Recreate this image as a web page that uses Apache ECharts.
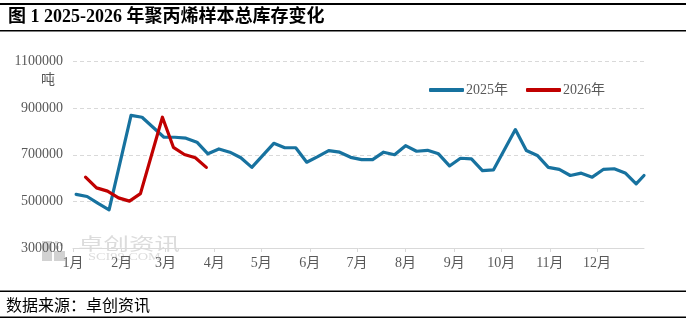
<!DOCTYPE html>
<html>
<head>
<meta charset="utf-8">
<script src="https://cdn.jsdelivr.net/npm/echarts@6/dist/echarts.min.js"></script>
<style>
  html, body { margin: 0; padding: 0; background: #fff; }
  #chart { width: 686px; height: 325px; }
</style>
</head>
<body>
<div id="chart"></div>
<script>
// Weekly polypropylene sample inventory (tonnes), plotted on a shared Jan–Dec calendar.
const axisYear = 2025;

const weeks2025 = [
  '01-03','01-10','01-17','01-24','02-07','02-14','02-21','02-28',
  '03-07','03-14','03-21','03-28','04-04','04-11','04-18','04-25',
  '05-02','05-09','05-16','05-23','05-30','06-06','06-13','06-20','06-27',
  '07-04','07-11','07-18','07-25','08-01','08-08','08-15','08-22','08-29',
  '09-05','09-12','09-19','09-26','10-10','10-17','10-24','10-31',
  '11-07','11-14','11-21','11-28','12-05','12-12','12-19','12-26','12-31'
];
const stock2025 = [
  530000, 521000, 491000, 464000, 869000, 861000, 818000, 775000,
  775000, 771000, 754000, 704000, 725000, 711000, 687000, 646000,
  697000, 749000, 730000, 730000, 668000, 692000, 718000, 711000, 689000,
  679000, 679000, 711000, 700000, 739000, 715000, 719000, 704000, 652000,
  685000, 682000, 632000, 635000, 808000, 718000, 697000, 646000,
  637000, 611000, 621000, 604000, 637000, 640000, 622000, 575000, 611000
];

const weeks2026 = [
  '01-09','01-16','01-23','01-30','02-06','02-13','02-27',
  '03-06','03-13','03-20','03-27'
];
const stock2026 = [
  604000, 558000, 544000, 515000, 501000, 533000, 861000,
  732000, 701000, 687000, 646000
];

const seriesNames = ['2025年', '2026年'];
const monthLabels = ['1月','2月','3月','4月','5月','6月','7月','8月','9月','10月','11月','12月'];
const yMin = 300000, yMax = 1100000, yStep = 200000;

// x position = day of the year (0 = 1 Jan) on the shared calendar
const DAY = 86400000;
const yearStart = Date.UTC(axisYear, 0, 1);
const dayOf = (m, d) => Math.round((Date.UTC(axisYear, m, d) - yearStart) / DAY);
const toDay = md => {
  const [m, d] = md.split('-').map(Number);
  return dayOf(m - 1, d);
};
const pairs = (dates, vals) => dates.map((d, i) => [toDay(d), vals[i]]);
const monthStarts = monthLabels.map((_, i) => dayOf(i, 1));
const lastDay = dayOf(11, 31);

const latin = '"Liberation Serif", "Noto Sans CJK SC", serif';
const cjk = '"Noto Sans CJK SC", sans-serif';
const textGrey = '#595959';
const W = 686;

const chart = echarts.init(document.getElementById('chart'), null, { renderer: 'canvas' });

chart.setOption({
  backgroundColor: '#ffffff',
  animation: false,
  grid: { left: 73, right: 42, top: 61.5, bottom: 77 },
  legend: {
    left: 424, top: 78,
    itemWidth: 35, itemHeight: 4, itemGap: 18,
    icon: 'roundRect',
    textStyle: { color: textGrey, fontSize: 14, fontFamily: latin, padding: [0, 0, 0, -3] },
    data: seriesNames
  },
  xAxis: {
    type: 'value',
    min: 0,
    max: lastDay,
    axisLine: { show: true, onZero: false, lineStyle: { color: '#d9d9d9', width: 1 } },
    axisTick: { show: true, length: 4, lineStyle: { color: '#d9d9d9' }, customValues: monthStarts },
    axisLabel: {
      color: textGrey, fontSize: 14, fontFamily: latin, margin: 8,
      customValues: monthStarts,
      formatter: v => monthLabels[monthStarts.indexOf(v)]
    },
    splitLine: { show: false }
  },
  yAxis: {
    type: 'value',
    min: yMin, max: yMax, interval: yStep,
    axisLine: { show: false },
    axisTick: { show: false },
    axisLabel: { color: textGrey, fontSize: 14, fontFamily: latin, margin: 10, formatter: v => String(v) },
    splitLine: { lineStyle: { color: '#d9d9d9', type: [4, 3], width: 1 } }
  },
  series: [
    {
      name: seriesNames[0], type: 'line', data: pairs(weeks2025, stock2025),
      showSymbol: false, symbol: 'none',
      color: '#17729f',
      lineStyle: { width: 3.2, color: '#17729f', cap: 'round', join: 'round' },
      z: 2
    },
    {
      name: seriesNames[1], type: 'line', data: pairs(weeks2026, stock2026),
      showSymbol: false, symbol: 'none',
      color: '#c00000',
      lineStyle: { width: 3.2, color: '#c00000', cap: 'round', join: 'round' },
      z: 3
    }
  ],
  graphic: [
    // header rules and title
    { type: 'rect', shape: { x: 0, y: 3, width: W, height: 2 }, style: { fill: '#000' }, silent: true },
    { type: 'rect', shape: { x: 0, y: 30, width: W, height: 1.5 }, style: { fill: '#000' }, silent: true },
    {
      type: 'text', left: 8, top: 8,
      style: { text: '图 1 2025-2026 年聚丙烯样本总库存变化', fill: '#000', font: 'bold 18px ' + latin }
    },
    // unit
    {
      type: 'text', left: 41, top: 72,
      style: { text: '吨', fill: textGrey, font: '14px ' + cjk }
    },
    // footer rules and source
    { type: 'rect', shape: { x: 0, y: 290.5, width: W, height: 1.5 }, style: { fill: '#000' }, silent: true },
    { type: 'rect', shape: { x: 0, y: 316.5, width: W, height: 1.5 }, style: { fill: '#000' }, silent: true },
    {
      type: 'text', left: 6, top: 297,
      style: { text: '数据来源：卓创资讯', fill: '#000', font: '16px ' + cjk }
    },
    // faint brand mark behind the lower-left of the plot
    {
      type: 'group', z: -1, silent: true,
      children: [
        { type: 'rect', shape: { x: 42, y: 241, width: 10, height: 20 }, style: { fill: '#d2d2d2' } },
        { type: 'rect', shape: { x: 54, y: 251, width: 11, height: 10 }, style: { fill: '#d2d2d2' } },
        { type: 'rect', shape: { x: 55, y: 241, width: 3, height: 3 }, style: { fill: '#dddddd' } },
        { type: 'rect', shape: { x: 60, y: 243, width: 3, height: 3 }, style: { fill: '#dddddd' } },
        { type: 'rect', shape: { x: 56, y: 246, width: 3, height: 3 }, style: { fill: '#dddddd' } },
        {
          type: 'text', x: 78, y: 235, scaleX: 1.5,
          style: { text: '卓创资讯', fill: '#dcdcdc', font: '17px ' + cjk }
        },
        {
          type: 'text', x: 88, y: 252, scaleX: 1.3,
          style: { text: 'SCI99.COM', fill: '#dcdcdc', font: '11px ' + latin }
        }
      ]
    }
  ]
});
</script>
</body>
</html>
